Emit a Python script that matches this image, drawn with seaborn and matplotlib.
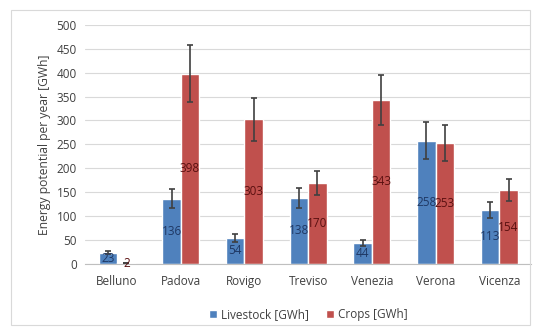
import pandas as pd
import matplotlib.pyplot as plt
import seaborn as sns
from matplotlib.patches import Rectangle

# dati
provinces = ['Belluno', 'Padova', 'Rovigo', 'Treviso', 'Venezia', 'Verona', 'Vicenza']
livestock = [23, 136, 54, 138, 44, 258, 113]
crops = [2, 398, 303, 170, 343, 253, 154]
livestock_err = [3, 20, 9, 21, 7, 39, 17]
crops_err = [0.5, 60, 45, 25, 52, 38, 23]

series = ['Livestock [GWh]', 'Crops [GWh]']
colors = ['#4f81bd', '#c0504d']
label_colors = ['#1f3864', '#5a1010']

df = pd.DataFrame({
    'Province': provinces * 2,
    'Source': [series[0]] * len(provinces) + [series[1]] * len(provinces),
    'Energy': livestock + crops,
})
errs = [livestock_err, crops_err]
values = [livestock, crops]

sns.set_style('white')
plt.rcParams['font.family'] = ['Open Sans', 'DejaVu Sans']

fig = plt.figure(figsize=(5.36, 3.27), dpi=100)
ax = fig.add_axes([0.159, 0.193, 0.832, 0.731])

sns.barplot(data=df, x='Province', y='Energy', hue='Source', palette=colors,
            errorbar=None, width=0.58, saturation=1, ax=ax)

bar_containers = list(ax.containers)
for i, cont in enumerate(bar_containers):
    xs = [p.get_x() + p.get_width() / 2 for p in cont.patches]
    hs = [p.get_height() for p in cont.patches]
    ax.errorbar(xs, hs, yerr=errs[i], fmt='none', ecolor='#404040',
                elinewidth=1.2, capsize=2.5, capthick=1.2, zorder=3)
    ax.bar_label(cont, labels=[str(v) for v in values[i]],
                 label_type='center', fontsize=8.5, color=label_colors[i], zorder=4)

ax.set_ylim(0, 500)
ax.set_yticks(range(0, 501, 50))
ax.set_xlim(-0.5, 6.5)
ax.yaxis.grid(True, color='#d9d9d9', linewidth=0.8)
ax.set_axisbelow(True)
for s in ['top', 'right', 'left']:
    ax.spines[s].set_visible(False)
ax.spines['bottom'].set_color('#bfbfbf')
ax.tick_params(axis='both', length=0, labelsize=8.5, colors='#404040')
ax.tick_params(axis='x', pad=8)
ax.tick_params(axis='y', pad=6)
ax.set_xlabel('')
ax.set_ylabel('Energy potential per year [GWh]', fontsize=8.7, color='#404040', labelpad=4)

ax.legend(loc='upper center', bbox_to_anchor=(0.5, -0.14), ncol=2, frameon=False,
          fontsize=8.5, handlelength=0.7, handleheight=0.7, handletextpad=0.3,
          columnspacing=1.5, labelcolor='#404040')

fig.patches.append(Rectangle((11 / 536, 2 / 327), 519 / 536, 315 / 327,
                             transform=fig.transFigure, fill=False,
                             edgecolor='#d9d9d9', linewidth=0.8))

fig.savefig('out.png', dpi=100)
